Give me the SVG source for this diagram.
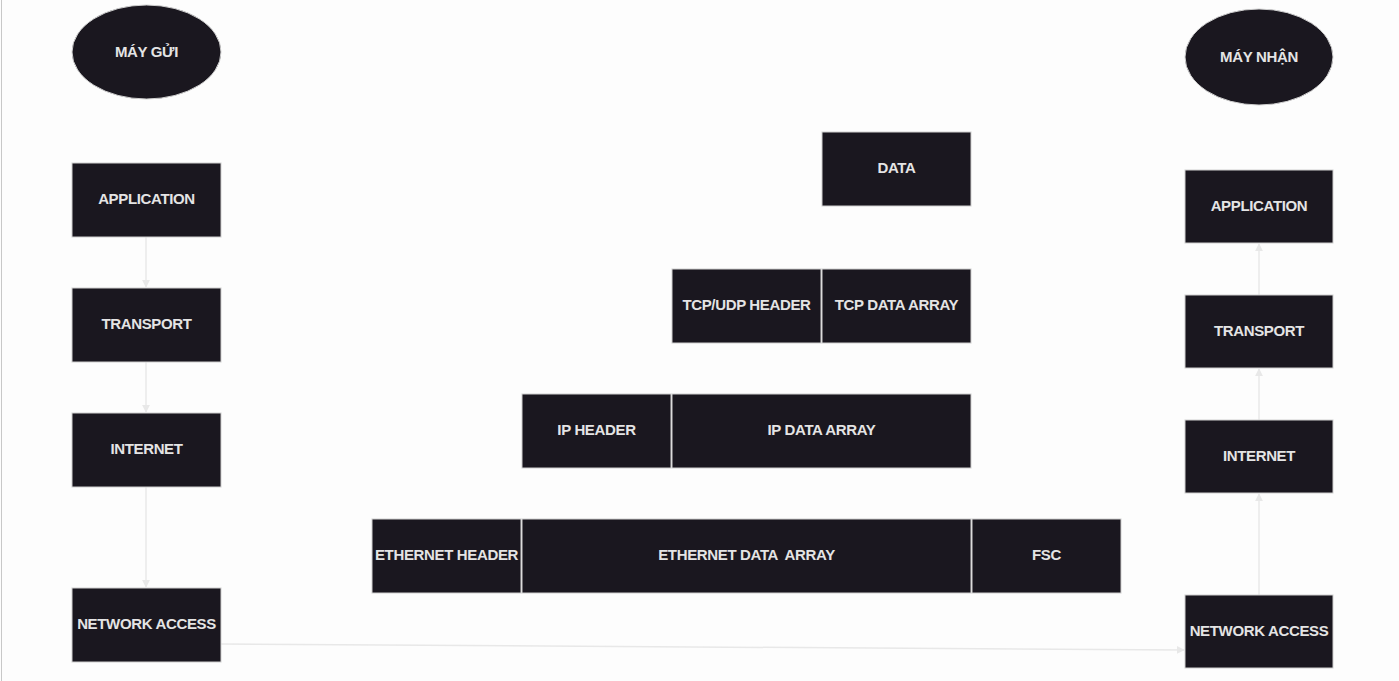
<svg xmlns="http://www.w3.org/2000/svg" width="1399" height="681" viewBox="0 0 1399 681">
<style>
.n{fill:#1a171f;stroke:#cfcfcf;stroke-width:1}
.t{fill:#e4e4e4;font-family:"Liberation Sans",Arial,sans-serif;font-size:15px;font-weight:bold;letter-spacing:-0.35px;text-anchor:middle;dominant-baseline:central;white-space:pre}
.c{stroke:#e8e8e8;stroke-width:1.5;fill:none}
</style>
<defs>
<marker id="ah" viewBox="0 0 10 10" refX="9" refY="5" markerWidth="8" markerHeight="8" markerUnits="userSpaceOnUse" orient="auto">
<path d="M0,0 L10,5 L0,10 z" fill="#e8e8e8"/>
</marker>
</defs>
<rect width="1399" height="681" fill="#fdfdfd"/>
<line x1="1.5" y1="0" x2="1.5" y2="681" stroke="#c8c8c8" stroke-width="1"/>
<g id="connectors">
<line class="c" x1="146" y1="237" x2="146" y2="287" marker-end="url(#ah)"/>
<line class="c" x1="146" y1="362" x2="146" y2="412" marker-end="url(#ah)"/>
<line class="c" x1="146" y1="487" x2="146" y2="587" marker-end="url(#ah)"/>
<line class="c" x1="221" y1="644" x2="1184" y2="650" marker-end="url(#ah)"/>
<line class="c" x1="1259" y1="595" x2="1259" y2="494" marker-end="url(#ah)"/>
<line class="c" x1="1259" y1="420" x2="1259" y2="369" marker-end="url(#ah)"/>
<line class="c" x1="1259" y1="295" x2="1259" y2="244" marker-end="url(#ah)"/>
</g>
<g id="may-gui"><ellipse class="n" cx="146.5" cy="52" rx="74.5" ry="47"/><text class="t" x="146.5" y="51">MÁY GỬI</text></g>
<g id="may-nhan"><ellipse class="n" cx="1259" cy="57" rx="74" ry="48"/><text class="t" x="1259" y="56">MÁY NHẬN</text></g>
<g id="s-app"><rect class="n" x="72" y="163" width="149" height="74"/><text class="t" x="146.5" y="198.5">APPLICATION</text></g>
<g id="s-transport"><rect class="n" x="72" y="288" width="149" height="74"/><text class="t" x="146.5" y="323.5">TRANSPORT</text></g>
<g id="s-internet"><rect class="n" x="72" y="413" width="149" height="74"/><text class="t" x="146.5" y="448.5">INTERNET</text></g>
<g id="s-network"><rect class="n" x="72" y="588" width="149" height="74"/><text class="t" x="146.5" y="623.5">NETWORK ACCESS</text></g>
<g id="r-app"><rect class="n" x="1185" y="170" width="148" height="73"/><text class="t" x="1259" y="205">APPLICATION</text></g>
<g id="r-transport"><rect class="n" x="1185" y="295" width="148" height="73"/><text class="t" x="1259" y="330">TRANSPORT</text></g>
<g id="r-internet"><rect class="n" x="1185" y="420" width="148" height="73"/><text class="t" x="1259" y="455">INTERNET</text></g>
<g id="r-network"><rect class="n" x="1185" y="595" width="148" height="73"/><text class="t" x="1259" y="630">NETWORK ACCESS</text></g>
<g id="data"><rect class="n" x="822" y="132" width="149" height="74"/><text class="t" x="896.5" y="167.5">DATA</text></g>
<g id="tcp-header"><rect class="n" x="672" y="269" width="149" height="74"/><text class="t" x="746.5" y="304.5">TCP/UDP HEADER</text></g>
<g id="tcp-data"><rect class="n" x="822" y="269" width="149" height="74"/><text class="t" x="896.5" y="304.5">TCP DATA ARRAY</text></g>
<g id="ip-header"><rect class="n" x="522" y="394" width="149" height="74"/><text class="t" x="596.5" y="429.5">IP HEADER</text></g>
<g id="ip-data"><rect class="n" x="672" y="394" width="299" height="74"/><text class="t" x="821.5" y="429.5">IP DATA ARRAY</text></g>
<g id="eth-header"><rect class="n" x="372" y="519" width="149" height="74"/><text class="t" x="446.5" y="554.5">ETHERNET HEADER</text></g>
<g id="eth-data"><rect class="n" x="522" y="519" width="449" height="74"/><text class="t" x="746.5" y="554.5">ETHERNET DATA  ARRAY</text></g>
<g id="fsc"><rect class="n" x="972" y="519" width="149" height="74"/><text class="t" x="1046.5" y="554.5">FSC</text></g>
</svg>
